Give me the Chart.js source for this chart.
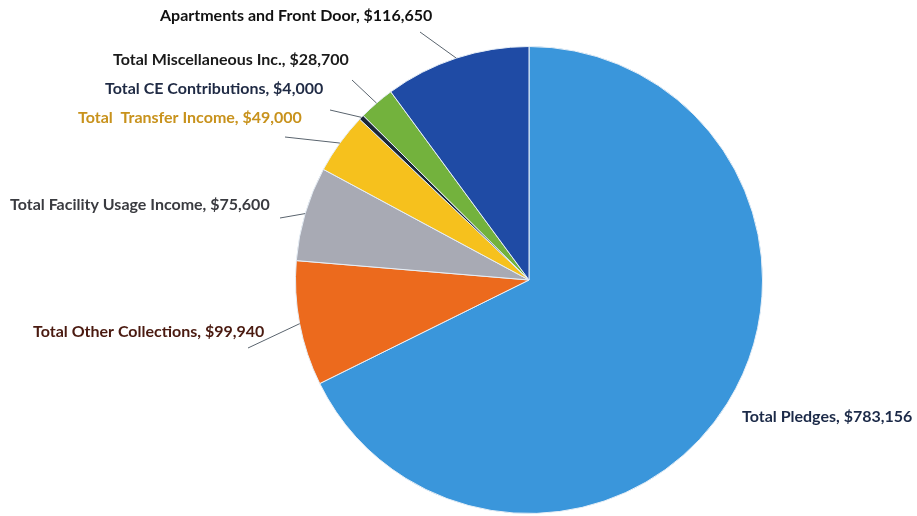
<!DOCTYPE html>
<html>
<head>
<meta charset="utf-8">
<script src="https://cdn.jsdelivr.net/npm/chart.js@4.4.0/dist/chart.umd.min.js"></script>
<style>
  body { margin: 0; background: #ffffff; }
  canvas { display: block; }
</style>
</head>
<body>
<canvas id="incomeChart" width="917" height="516"></canvas>
<script>
// Income categories, in drawing order (clockwise from 12 o'clock)
const categories = [
  "Total Pledges",
  "Total Other Collections",
  "Total Facility Usage Income",
  "Total  Transfer Income",
  "Total CE Contributions",
  "Total Miscellaneous Inc.",
  "Apartments and Front Door"
];
const amounts = [783156, 99940, 75600, 49000, 4000, 28700, 116650];

const sliceColors = ["#3a96db", "#ec6a1d", "#a8aab4", "#f6c11d", "#1c2838", "#73b23d", "#1f4ba5"];
const textColors = ["#1c2a48", "#4a1a10", "#3a3b40", "#c8921c", "#1f2a44", "#1a1a1a", "#111111"];

// label placement: text left x, text middle y, leader line end (null = no line)
const labelX = [742, 33, 10, 78, 105, 113, 160];
const labelY = [417, 332, 205, 118, 89, 60, 16];
const lineEnd = [null, [248, 348], [280, 218], [285, 137], [330, 110], [352, 80], [420, 32]];

const ctx = document.getElementById("incomeChart").getContext("2d");

const pieLabels = {
  id: "pieLabels",
  afterDatasetsDraw(chart) {
    const c = chart.ctx;
    const arcs = chart.getDatasetMeta(0).data;
    c.save();
    arcs.forEach((arc, i) => {
      const p = arc.getProps(["x", "y", "startAngle", "endAngle", "outerRadius"], true);
      const mid = (p.startAngle + p.endAngle) / 2;
      const ex = p.x + Math.cos(mid) * p.outerRadius;
      const ey = p.y + Math.sin(mid) * p.outerRadius;
      if (lineEnd[i]) {
        c.strokeStyle = "#5a646e";
        c.lineWidth = 1;
        c.beginPath();
        c.moveTo(lineEnd[i][0], lineEnd[i][1]);
        c.lineTo(ex, ey);
        c.stroke();
      }
      c.font = "bold 16px Lato";
      c.fillStyle = textColors[i];
      c.textAlign = "left";
      c.textBaseline = "middle";
      const txt = categories[i] + ", $" + amounts[i].toLocaleString("en-US");
      c.fillText(txt, labelX[i], labelY[i]);
    });
    c.restore();
  }
};

new Chart(ctx, {
  type: "pie",
  data: {
    labels: categories,
    datasets: [{
      data: amounts,
      backgroundColor: sliceColors,
      borderColor: "#e6eef6",
      borderWidth: 1
    }]
  },
  options: {
    responsive: false,
    animation: false,
    layout: {
      padding: { left: 295, right: 154, top: 46, bottom: 2 }
    },
    plugins: {
      legend: { display: false },
      tooltip: { enabled: false }
    }
  },
  plugins: [pieLabels]
});
</script>
</body>
</html>
